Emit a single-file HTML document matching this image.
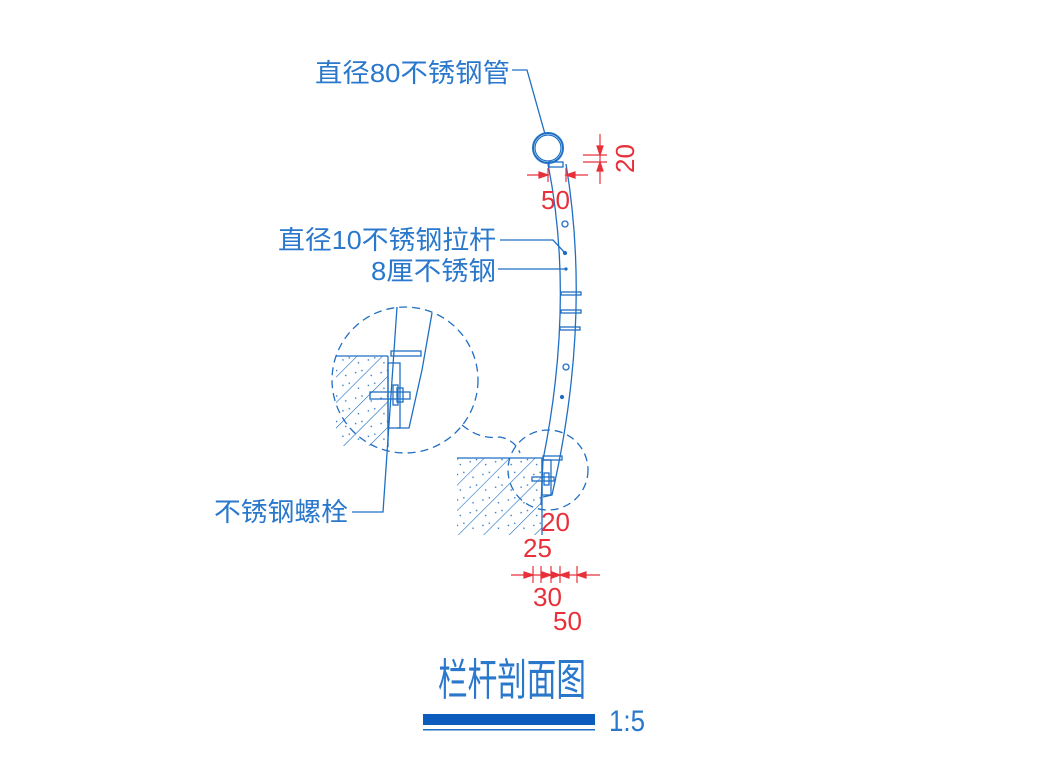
<!DOCTYPE html>
<html><head><meta charset="utf-8"><style>
html,body{margin:0;padding:0;background:#fff;width:1049px;height:773px;overflow:hidden}
svg{display:block}
.t{font-family:"Liberation Sans","Noto Sans CJK SC",sans-serif;fill:#2a78cc}
.r{font-family:"Liberation Sans",sans-serif;fill:#e8303a}
</style></head><body>
<svg width="1049" height="773" viewBox="0 0 1049 773" xmlns="http://www.w3.org/2000/svg">
<defs>
<pattern id="h" width="18" height="18" patternUnits="userSpaceOnUse" patternTransform="rotate(45)">
<line x1="0" y1="0" x2="0" y2="18" stroke="#1f6fc4" stroke-width="1.2"/>
<circle cx="6" cy="3" r="0.8" fill="#1f6fc4"/><circle cx="11" cy="12" r="0.8" fill="#1f6fc4"/><circle cx="14" cy="6" r="0.8" fill="#1f6fc4"/>
</pattern>
</defs>
<g stroke="#1f6fc4" fill="none" stroke-width="1.3">
<circle cx="548" cy="148" r="15" stroke-width="2"/>
<circle cx="548" cy="148" r="13" stroke-width="1.2"/>
<path d="M548,164 Q575,300 543,460 L541,505"/>
<path d="M566,164 Q592,320 552,495 L543,497"/>
<rect x="549" y="162" width="14" height="5"/>
<rect x="561" y="292" width="20" height="3"/>
<rect x="561" y="310" width="20" height="3"/>
<rect x="560" y="327" width="20" height="3"/>
<circle cx="565" cy="224" r="3"/><circle cx="566" cy="367" r="3"/>
<circle cx="565" cy="253" r="1.5" fill="#1f6fc4"/><circle cx="566" cy="269" r="1" fill="#1f6fc4"/><circle cx="562" cy="397" r="1.5" fill="#1f6fc4"/>
<rect x="457" y="458" width="85" height="77" fill="url(#h)" stroke="none"/>
<line x1="457" y1="458" x2="542" y2="458"/>
<line x1="542" y1="458" x2="542" y2="535"/>
<rect x="543" y="456" width="19" height="4"/>
<rect x="542" y="460" width="9" height="35"/>
<rect x="532" y="477" width="22" height="4"/>
<rect x="544" y="473" width="5" height="12"/>
<g stroke-dasharray="8,5">
<circle cx="548" cy="470" r="40"/>
<circle cx="405" cy="380" r="73"/>
<path d="M462,425 Q480,440 500,437 Q515,440 520,453"/>
</g>
<rect x="336" y="356" width="52" height="90" fill="url(#h)" stroke="none"/>
<line x1="336" y1="356" x2="388" y2="356"/>
<line x1="388" y1="356" x2="388" y2="447"/>
<rect x="388" y="363" width="12" height="65"/>
<path d="M397,307 L383,512 L352,512"/>
<path d="M432,313 L422,370 L409,428 L397,428"/>
<rect x="391" y="351" width="30" height="5"/>
<rect x="370" y="392" width="40" height="7"/>
<rect x="393" y="385" width="5" height="20"/>
<rect x="397" y="388" width="6" height="14"/>
<path d="M512,70 L527,70 L545,134"/>
<path d="M500,240 L553,240 L565,253"/>
<path d="M498,269 L566,269"/>
</g>
<g stroke="#e8303a" stroke-width="1.2" fill="#e8303a">
<line x1="527" y1="175" x2="548" y2="175"/><line x1="566" y1="175" x2="588" y2="175"/>
<line x1="548" y1="168" x2="548" y2="182"/><line x1="566" y1="168" x2="566" y2="182"/>
<path d="M548,175 l-9,-3 v6z"/><path d="M566,175 l9,-3 v6z"/>
<line x1="600" y1="134" x2="600" y2="184"/>
<line x1="583" y1="155" x2="607" y2="155"/><line x1="583" y1="162" x2="607" y2="162"/>
<path d="M600,155 l-3,-9 h6z"/><path d="M600,162 l-3,9 h6z"/>
<line x1="511" y1="575" x2="600" y2="575"/>
<line x1="533" y1="566" x2="533" y2="583"/><line x1="541" y1="566" x2="541" y2="583"/>
<line x1="551" y1="566" x2="551" y2="583"/><line x1="560" y1="566" x2="560" y2="583"/>
<line x1="577" y1="566" x2="577" y2="583"/>
<path d="M533,575 l-9,-3 v6z"/><path d="M551,575 l-9,-3 v6z"/><path d="M560,575 l-8,-3 v6z"/><path d="M560,575 l9,-3 v6z"/><path d="M577,575 l9,-3 v6z"/>
</g>
<text class="r" x="541" y="209" font-size="26">50</text>
<text class="r" x="0" y="0" font-size="26" transform="translate(634,173) rotate(-90)">20</text>
<text class="r" x="541" y="531" font-size="26">20</text>
<text class="r" x="523" y="557" font-size="26">25</text>
<text class="r" x="533" y="606" font-size="26">30</text>
<text class="r" x="553" y="630" font-size="26">50</text>
<text class="t" x="315" y="82" font-size="26" textLength="195" lengthAdjust="spacingAndGlyphs">直径80不锈钢管</text>
<text class="t" x="278" y="249" font-size="26" textLength="218" lengthAdjust="spacingAndGlyphs">直径10不锈钢拉杆</text>
<text class="t" x="371" y="280" font-size="26" textLength="125" lengthAdjust="spacingAndGlyphs">8厘不锈钢</text>
<text class="t" x="214" y="521" font-size="26" textLength="134" lengthAdjust="spacingAndGlyphs">不锈钢螺栓</text>
<text class="t" x="438" y="695" font-size="44" textLength="148" lengthAdjust="spacingAndGlyphs">栏杆剖面图</text>
<rect x="423" y="714" width="172" height="11" fill="#0b5cbd"/>
<rect x="423" y="729" width="172" height="1.5" fill="#1f6fc4"/>
<text class="t" x="609" y="731" font-size="30" textLength="36" lengthAdjust="spacingAndGlyphs">1:5</text>
</svg>
</body></html>
